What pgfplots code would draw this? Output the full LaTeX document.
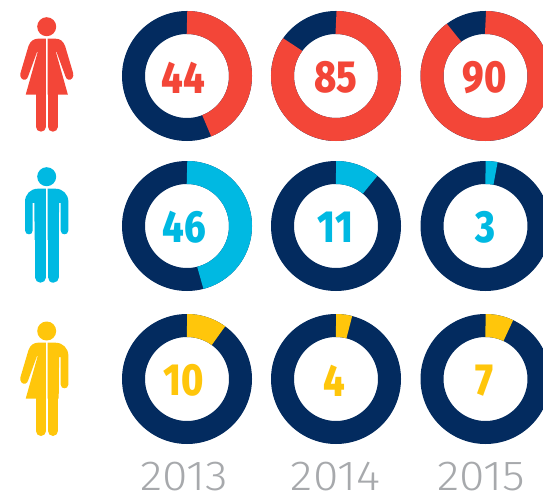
\documentclass[border=0pt]{standalone}
\usepackage{pgfplots}
\pgfplotsset{compat=1.18}
\usepackage{fontspec}
\setmainfont{Fira Sans}
\newfontfamily\numfont[UprightFont=* ExtraBold]{Fira Sans}
\newfontfamily\yearfont[UprightFont=* Light]{Fira Sans}
\definecolor{cred}{HTML}{F34638}
\definecolor{ccyan}{HTML}{00B9E2}
\definecolor{cyel}{HTML}{FFC60B}
\definecolor{cnavy}{HTML}{032B5F}
\definecolor{cgray}{HTML}{A7A9AC}
% #1 centre x, #2 centre y, #3 share in percent, #4 colour, #5 label x
\newcommand{\donut}[5]{%
  \addplot[cnavy,line width=23pt,line cap=butt,no markers,domain=0:100,samples=121,smooth=false]
    ({#1+53.5*sin(3.6*x)},{#2-53.5*cos(3.6*x)});
  \addplot[#4,line width=23pt,line cap=butt,no markers,domain=0:#3,samples=61]
    ({#1+53.5*sin(3.6*x)},{#2-53.5*cos(3.6*x)});
  \node[text=#4,inner sep=0pt] at (#5,#2+1.5) {\numfont\scalebox{.84}[1]{\fontsize{45}{45}\selectfont #3}};
}
% halves of the icons; #1 is the vertical offset
\newcommand{\womanhalf}[3]{% #1 dy, #2 mirror sign, #3 colour
  \fill[#3] ({46.8+#2*(-0.9)},{#1+38.7}) -- ({46.8+#2*(-8.8)},{#1+38.7})
    .. controls ({46.8+#2*(-13)},{#1+38.7}) and ({46.8+#2*(-16.5)},{#1+41}) .. ({46.8+#2*(-18.3)},{#1+46})
    -- ({46.8+#2*(-26.3)},{#1+73})
    .. controls ({46.8+#2*(-27.5)},{#1+77}) and ({46.8+#2*(-24.5)},{#1+80.5}) .. ({46.8+#2*(-21.6)},{#1+79.7})
    .. controls ({46.8+#2*(-20)},{#1+79.3}) and ({46.8+#2*(-19.3)},{#1+78}) .. ({46.8+#2*(-18.7)},{#1+76.5})
    -- ({46.8+#2*(-9.6)},{#1+51.5}) -- ({46.8+#2*(-9.1)},{#1+52})
    -- ({46.8+#2*(-21.1)},{#1+94.7}) -- ({46.8+#2*(-0.9)},{#1+94.7}) -- cycle;
}
\newcommand{\manhalf}[5]{% #1 dy, #2 sign, #3 colour, #4 arm end y, #5 body to y
  \fill[#3] ({46.7+#2*(-0.8)},{#1+38.7}) -- ({46.7+#2*(-8.7)},{#1+38.7})
    .. controls ({46.7+#2*(-16)},{#1+38.7}) and ({46.7+#2*(-21.7)},{#1+44}) .. ({46.7+#2*(-21.7)},{#1+52})
    -- ({46.7+#2*(-21.7)},{#1+#4-3.9})
    .. controls ({46.7+#2*(-21.7)},{#1+#4-1}) and ({46.7+#2*(-19.5)},{#1+#4}) .. ({46.7+#2*(-17.8)},{#1+#4})
    .. controls ({46.7+#2*(-16)},{#1+#4}) and ({46.7+#2*(-14)},{#1+#4-1}) .. ({46.7+#2*(-14)},{#1+#4-3.9})
    -- ({46.7+#2*(-14)},{#1+53}) -- ({46.7+#2*(-12.4)},{#1+53})
    -- ({46.7+#2*(-12)},{#1+#5}) -- ({46.7+#2*(-0.8)},{#1+#5}) -- cycle;
}
\newcommand{\leg}[5]{% x, top, bottom, width, colour
  \draw[#5,line width=#4pt,line cap=round] (#1,#2) -- (#1,#3-#4/2);
}
\begin{document}
\begin{tikzpicture}
\useasboundingbox (0,0) rectangle (543pt,494pt);
\begin{axis}[
  at={(0,0)},anchor=south west,
  width=543pt,height=494pt,scale only axis,
  xmin=0,xmax=543,ymin=0,ymax=494,y dir=reverse,
  hide axis,clip=true]
% women / men / another gender, 2013, 2014, 2015
\donut{187}{76}{44}{cred}{183.5}
\donut{336}{76}{85}{cred}{335.5}
\donut{485.5}{76}{90}{cred}{485}
\donut{187}{226}{46}{ccyan}{184}
\donut{336}{226}{11}{ccyan}{335.5}
\donut{485.5}{226}{3}{ccyan}{485}
\donut{187}{379}{10}{cyel}{183.5}
\donut{336}{379}{4}{cyel}{334.5}
\donut{485.5}{379}{7}{cyel}{484.5}
% woman
\fill[cred] (46.7,26.7) circle[radius=9.5pt];
\womanhalf{0}{1}{cred}
\womanhalf{0}{-1}{cred}
\leg{40.9}{93}{131.7}{9.7}{cred}
\leg{52.7}{93}{131.7}{9.9}{cred}
% man
\fill[ccyan] (46.7,176.7) circle[radius=9.5pt];
\manhalf{150}{1}{ccyan}{84.3}{90}
\manhalf{150}{-1}{ccyan}{84.3}{90}
\leg{40.5}{235}{282.7}{10.4}{ccyan}
\leg{53.2}{235}{282.7}{11}{ccyan}
% third
\fill[cyel] (46.7,331) circle[radius=9.5pt];
\womanhalf{304}{1}{cyel}
\manhalf{304}{-1}{cyel}{84.3}{94.7}
\leg{40.9}{397}{436}{9.7}{cyel}
\leg{52.8}{397}{436}{10.2}{cyel}
% years
\node[text=cgray,inner sep=0pt] at (184,477) {\yearfont\scalebox{1.1}[1]{\fontsize{42}{42}\selectfont 2013}};
\node[text=cgray,inner sep=0pt] at (335.5,477) {\yearfont\scalebox{1.1}[1]{\fontsize{42}{42}\selectfont 2014}};
\node[text=cgray,inner sep=0pt] at (481.5,477) {\yearfont\scalebox{1.1}[1]{\fontsize{42}{42}\selectfont 2015}};
\end{axis}
\end{tikzpicture}
\end{document}
